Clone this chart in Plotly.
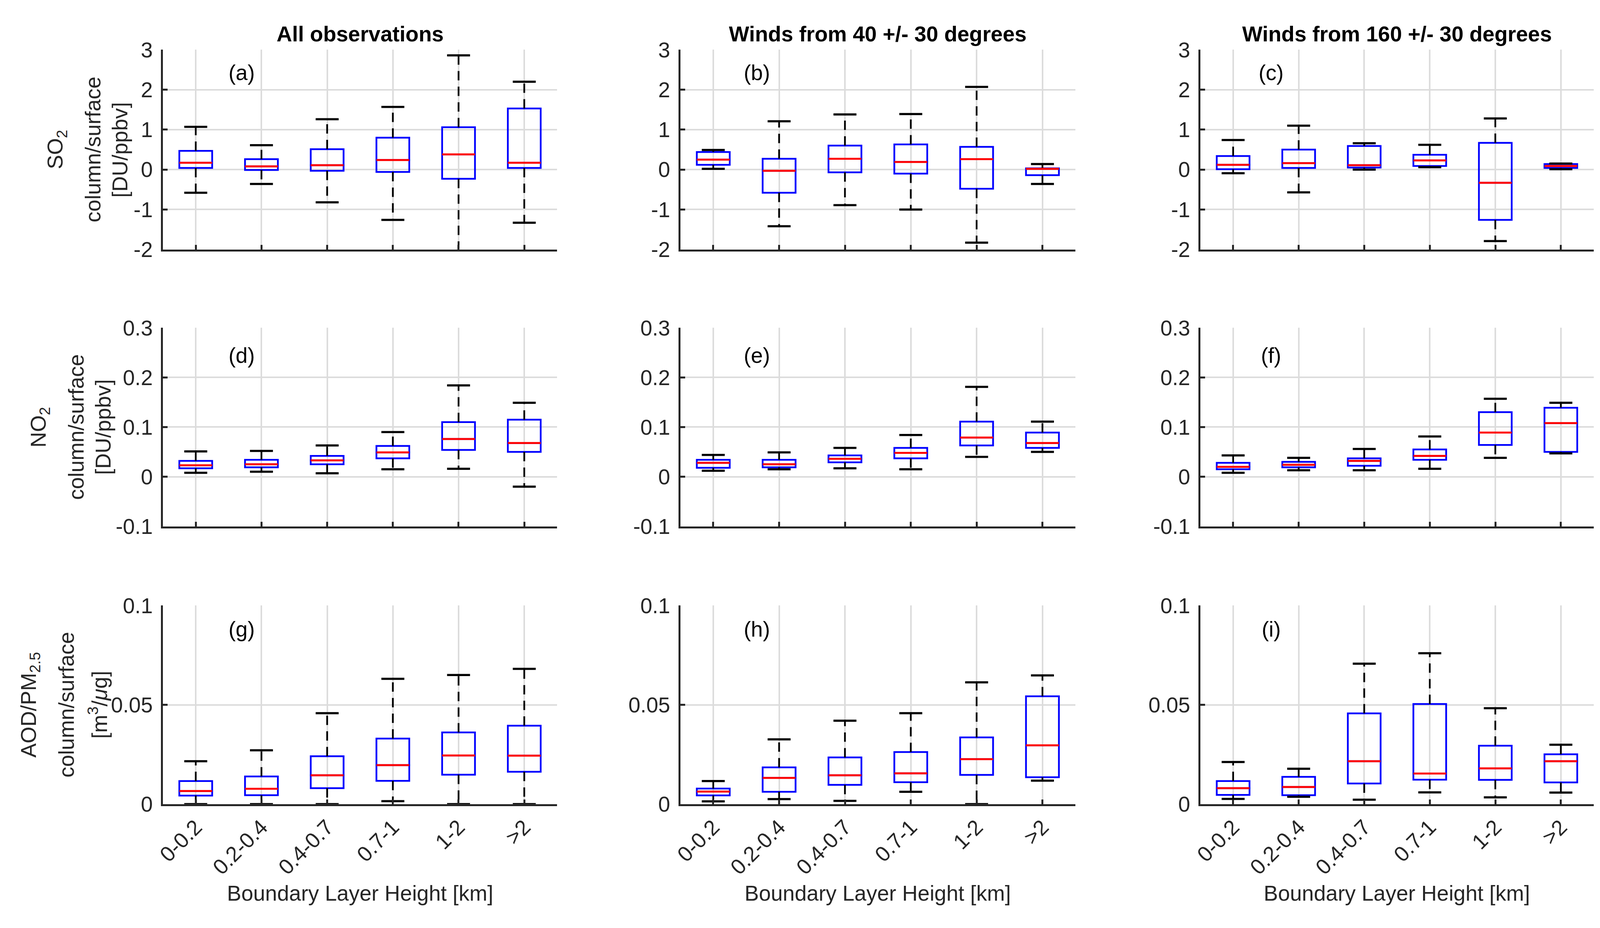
import plotly.graph_objects as go

categories = ["0-0.2", "0.2-0.4", "0.4-0.7", "0.7-1", "1-2", ">2"]
col_titles = ["All observations", "Winds from 40 +/- 30 degrees", "Winds from 160 +/- 30 degrees"]
row_label_lines = [
    ["SO<sub>2</sub>", "column/surface", "[DU/ppbv]"],
    ["NO<sub>2</sub>", "column/surface", "[DU/ppbv]"],
    ["AOD/PM<sub>2.5</sub>", "column/surface", "[m<sup>3</sup>/<i>μ</i>g]"],
]
panel_letters = ["(a)", "(b)", "(c)", "(d)", "(e)", "(f)", "(g)", "(h)", "(i)"]
xlabel = "Boundary Layer Height [km]"

# ---- SO2 row ----
a_lo = [-0.58, -0.36, -0.82, -1.26, -2.60, -1.33]
a_q1 = [0.04, -0.01, -0.03, -0.06, -0.23, 0.04]
a_med = [0.17, 0.08, 0.11, 0.24, 0.38, 0.17]
a_q3 = [0.47, 0.26, 0.51, 0.80, 1.06, 1.53]
a_hi = [1.07, 0.61, 1.26, 1.57, 2.86, 2.20]

b_lo = [0.02, -1.42, -0.89, -1.00, -1.83, -0.36]
b_q1 = [0.12, -0.58, -0.07, -0.10, -0.48, -0.14]
b_med = [0.25, -0.03, 0.27, 0.19, 0.26, 0.02]
b_q3 = [0.44, 0.27, 0.60, 0.63, 0.57, 0.03]
b_hi = [0.49, 1.21, 1.38, 1.39, 2.07, 0.14]

c_lo = [-0.09, -0.57, 0.00, 0.06, -1.79, 0.01]
c_q1 = [0.01, 0.04, 0.05, 0.09, -1.26, 0.04]
c_med = [0.12, 0.16, 0.11, 0.23, -0.33, 0.09]
c_q3 = [0.34, 0.50, 0.59, 0.37, 0.67, 0.14]
c_hi = [0.74, 1.10, 0.66, 0.62, 1.28, 0.15]

# ---- NO2 row ----
d_lo = [0.008, 0.010, 0.007, 0.015, 0.016, -0.020]
d_q1 = [0.017, 0.019, 0.025, 0.037, 0.054, 0.050]
d_med = [0.023, 0.025, 0.033, 0.049, 0.076, 0.068]
d_q3 = [0.032, 0.034, 0.042, 0.062, 0.110, 0.115]
d_hi = [0.051, 0.052, 0.063, 0.090, 0.184, 0.149]

e_lo = [0.012, 0.015, 0.017, 0.015, 0.040, 0.050]
e_q1 = [0.018, 0.019, 0.029, 0.037, 0.063, 0.058]
e_med = [0.028, 0.025, 0.036, 0.048, 0.079, 0.068]
e_q3 = [0.034, 0.034, 0.043, 0.058, 0.111, 0.089]
e_hi = [0.044, 0.049, 0.058, 0.084, 0.181, 0.111]

f_lo = [0.008, 0.013, 0.013, 0.016, 0.038, 0.047]
f_q1 = [0.015, 0.019, 0.022, 0.034, 0.064, 0.050]
f_med = [0.020, 0.024, 0.032, 0.042, 0.089, 0.108]
f_q3 = [0.028, 0.030, 0.037, 0.055, 0.130, 0.139]
f_hi = [0.043, 0.038, 0.056, 0.081, 0.157, 0.149]

# ---- AOD/PM2.5 row ----
g_lo = [0.0, 0.0, 0.0, 0.0015, 0.0, 0.0]
g_q1 = [0.0043, 0.0045, 0.0080, 0.0117, 0.0148, 0.0163]
g_med = [0.0066, 0.0077, 0.0145, 0.0196, 0.0245, 0.0244]
g_q3 = [0.0116, 0.0139, 0.0241, 0.0330, 0.0361, 0.0395]
g_hi = [0.0216, 0.0271, 0.0458, 0.0631, 0.0650, 0.0681]

h_lo = [0.0014, 0.0025, 0.0016, 0.0062, 0.0, 0.0118]
h_q1 = [0.0044, 0.0062, 0.0097, 0.0110, 0.0147, 0.0135]
h_med = [0.0063, 0.0132, 0.0145, 0.0155, 0.0226, 0.0296]
h_q3 = [0.0078, 0.0185, 0.0235, 0.0262, 0.0336, 0.0543]
h_hi = [0.0116, 0.0326, 0.0420, 0.0458, 0.0613, 0.0648]

i_lo = [0.0026, 0.0037, 0.0022, 0.0059, 0.0034, 0.0058]
i_q1 = [0.0046, 0.0045, 0.0104, 0.0123, 0.0122, 0.0109]
i_med = [0.0080, 0.0086, 0.0216, 0.0154, 0.0180, 0.0216]
i_q3 = [0.0116, 0.0137, 0.0457, 0.0504, 0.0294, 0.0251]
i_hi = [0.0212, 0.0178, 0.0707, 0.0760, 0.0483, 0.0299]

panels = [
    (a_lo, a_q1, a_med, a_q3, a_hi), (b_lo, b_q1, b_med, b_q3, b_hi), (c_lo, c_q1, c_med, c_q3, c_hi),
    (d_lo, d_q1, d_med, d_q3, d_hi), (e_lo, e_q1, e_med, e_q3, e_hi), (f_lo, f_q1, f_med, f_q3, f_hi),
    (g_lo, g_q1, g_med, g_q3, g_hi), (h_lo, h_q1, h_med, h_q3, h_hi), (i_lo, i_q1, i_med, i_q3, i_hi),
]

row_ranges = [[-2, 3], [-0.1, 0.3], [0, 0.1]]
row_ticks = [[-2, -1, 0, 1, 2, 3], [-0.1, 0, 0.1, 0.2, 0.3], [0, 0.05, 0.1]]
row_ticktext = [["-2", "-1", "0", "1", "2", "3"], ["-0.1", "0", "0.1", "0.2", "0.3"], ["0", "0.05", "0.1"]]

# layout geometry (paper fractions)
x_domains = [[0.0974, 0.345], [0.4224, 0.6705], [0.749, 0.996]]
y_domains = [[0.7374, 0.9583], [0.431, 0.6507], [0.1237, 0.3434]]
letter_x = [1.70, 1.66, 1.58]
letter_y = [0.885, 0.86, 0.88]
ylabel_line_x = [
    [0.0307, 0.0535, 0.0704],
    [0.0202, 0.0430, 0.0599],
    [0.0138, 0.0366, 0.0566],
]

FONT = "Liberation Sans, Arial, sans-serif"
FS = 55
AX = "#262626"
BOX_W = 0.5
CAP_PX = 42

xpos = list(range(1, len(categories) + 1))

fig = go.Figure()
layout = dict(
    autosize=True,
    margin=dict(l=0, r=0, t=0, b=0, pad=0),
    paper_bgcolor="white", plot_bgcolor="white",
    showlegend=False,
    font=dict(family=FONT, size=FS, color=AX),
)
annotations = []

for p, (lo, q1, med, q3, hi) in enumerate(panels):
    r, c = divmod(p, 3)
    n = p + 1
    xa = "x" if n == 1 else f"x{n}"
    ya = "y" if n == 1 else f"y{n}"

    # box body (blue)
    fig.add_trace(go.Box(
        x=xpos, q1=q1, median=med, q3=q3, lowerfence=q1, upperfence=q3,
        width=BOX_W, line=dict(color="#0000ff", width=4.5),
        fillcolor="rgba(0,0,0,0)", xaxis=xa, yaxis=ya, hoverinfo="skip",
        boxpoints=False,
    ))
    # whiskers (dashed black)
    wx, wy = [], []
    for k in range(len(xpos)):
        wx += [xpos[k], xpos[k], None, xpos[k], xpos[k], None]
        wy += [q3[k], hi[k], None, q1[k], lo[k], None]
    fig.add_trace(go.Scatter(
        x=wx, y=wy, mode="lines", xaxis=xa, yaxis=ya,
        line=dict(color="black", width=4.5, dash="24px,16px"), hoverinfo="skip",
    ))
    # whisker caps
    fig.add_trace(go.Scatter(
        x=xpos + xpos, y=hi + lo, mode="markers", xaxis=xa, yaxis=ya,
        marker=dict(symbol="line-ew", size=CAP_PX, line=dict(color="black", width=5.5)),
        hoverinfo="skip",
    ))
    # medians (red)
    mx, my = [], []
    for k in range(len(xpos)):
        mx += [xpos[k] - BOX_W / 2, xpos[k] + BOX_W / 2, None]
        my += [med[k], med[k], None]
    fig.add_trace(go.Scatter(
        x=mx, y=my, mode="lines", xaxis=xa, yaxis=ya,
        line=dict(color="#ff0000", width=5), hoverinfo="skip",
    ))

    xkey = "xaxis" if n == 1 else f"xaxis{n}"
    ykey = "yaxis" if n == 1 else f"yaxis{n}"
    layout[xkey] = dict(
        domain=x_domains[c], anchor=ya, range=[0.5, len(categories) + 0.5],
        tickmode="array", tickvals=xpos, ticktext=categories,
        showticklabels=(r == 2), tickangle=-45,
        ticks="inside", ticklen=12, tickwidth=4.5, tickcolor=AX,
        showline=True, linewidth=5, linecolor=AX, mirror=False,
        showgrid=True, gridcolor="#dcdcdc", gridwidth=4, zeroline=False,
        tickfont=dict(family=FONT, size=FS, color=AX),
        fixedrange=True,
    )
    layout[ykey] = dict(
        domain=y_domains[r], anchor=xa, range=row_ranges[r],
        tickmode="array", tickvals=row_ticks[r], ticktext=row_ticktext[r],
        ticks="inside", ticklen=12, tickwidth=4.5, tickcolor=AX,
        showline=True, linewidth=5, linecolor=AX, mirror=False,
        showgrid=True, gridcolor="#dcdcdc", gridwidth=4, zeroline=False,
        tickfont=dict(family=FONT, size=FS, color=AX), ticklabelstandoff=10,
        fixedrange=True,
    )
    annotations.append(dict(
        text=panel_letters[p], xref=xa, yref=f"{ya} domain",
        x=letter_x[c], y=letter_y[r], showarrow=False,
        xanchor="center", yanchor="middle",
        font=dict(family=FONT, size=FS, color="black"),
    ))

for c in range(3):
    annotations.append(dict(
        text=f"<b>{col_titles[c]}</b>", xref="paper", yref="paper",
        x=sum(x_domains[c]) / 2, y=0.976, showarrow=False,
        xanchor="center", yanchor="middle",
        font=dict(family=FONT, size=FS, color="black"),
    ))
    annotations.append(dict(
        text=xlabel, xref="paper", yref="paper",
        x=sum(x_domains[c]) / 2, y=0.025, showarrow=False,
        xanchor="center", yanchor="middle",
        font=dict(family=FONT, size=FS, color=AX),
    ))

for r in range(3):
    for j, line_text in enumerate(row_label_lines[r]):
        annotations.append(dict(
            text=line_text, xref="paper", yref="paper",
            x=ylabel_line_x[r][j], y=sum(y_domains[r]) / 2, showarrow=False,
            textangle=-90, xanchor="center", yanchor="middle", align="center",
            font=dict(family=FONT, size=FS, color=AX),
        ))

layout["annotations"] = annotations
fig.update_layout(**layout)

post = (
    "document.documentElement.style.margin='0';"
    "document.body.style.margin='0';"
    "document.body.style.padding='0';"
    "document.body.style.overflow='hidden';"
    "var gd=document.getElementById('{plot_id}');"
    "gd.style.position='fixed';gd.style.left='0';gd.style.top='0';"
    "gd.style.width='100vw';gd.style.height='100vh';"
    "Plotly.Plots.resize(gd);"
)
fig.write_html("out.html", include_plotlyjs=True, full_html=True,
               default_width="100vw", default_height="100vh",
               config={"responsive": True, "displayModeBar": False},
               post_script=post)
